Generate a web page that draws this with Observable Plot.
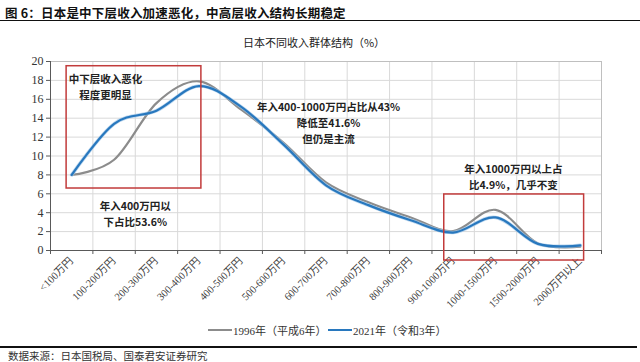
<!DOCTYPE html>
<html><head><meta charset="utf-8">
<script src="https://cdn.jsdelivr.net/npm/d3@7"></script>
<script src="https://cdn.jsdelivr.net/npm/@observablehq/plot@0.6"></script>
<style>
body{margin:0;width:640px;height:362px;position:relative;background:#fff;font-family:"Noto Sans CJK SC",sans-serif;overflow:hidden}
.abs{position:absolute;white-space:nowrap}
#title{left:5px;top:3px;font-size:12.5px;font-weight:700;color:#111;letter-spacing:0.2px}
#rule1{left:0;top:20px;width:640px;height:0;border-top:1.5px solid #111}
#sub{left:0;width:628px;top:34px;text-align:center;font-size:11px;color:#222}
#chart{left:0;top:50px}
.leg{top:322px;font-family:"Liberation Serif","Noto Sans CJK SC",serif;font-size:11px;color:#333;display:flex;align-items:center}
.sw{display:inline-block;width:24px;margin-right:1px}
#rule2{left:0;top:346px;width:637px;border-top:2px solid #111}
#src{left:8px;top:350px;font-size:10.5px;line-height:12px;color:#333}
</style></head>
<body>
<div id="title" class="abs">图 6：日本是中下层收入加速恶化，中高层收入结构长期稳定</div>
<div id="rule1" class="abs"></div>
<div id="sub" class="abs">日本不同收入群体结构（%）</div>
<div id="chart" class="abs"></div>
<div class="abs leg" id="leg1" style="left:208px"><span class="sw" style="border-top:2px solid #8c8c8c"></span>1996年（平成6年）</div>
<div class="abs leg" id="leg2" style="left:328px"><span class="sw" style="border-top:2.5px solid #2878be"></span>2021年（令和3年）</div>
<div id="rule2" class="abs"></div>
<div id="src" class="abs">数据来源：日本国税局、国泰君安证券研究</div>
<script>
const categories = ["<100万円","100-200万円","200-300万円","300-400万円","400-500万円","500-600万円","600-700万円","700-800万円","800-900万円","900-1000万円","1000-1500万円","1500-2000万円","2000万円以上"];
const series1996 = [8.0, 9.6, 15.6, 17.9, 14.9, 11.4, 7.2, 5.1, 3.5, 2.05, 4.3, 0.75, 0.4];
const series2021 = [8.0, 13.4, 14.8, 17.4, 15.2, 11.2, 6.9, 4.8, 3.2, 1.9, 3.5, 0.7, 0.55];
const yTicks = [0,2,4,6,8,10,12,14,16,18,20];

const noteText = ["中下层收入恶化\n程度更明显", "年入400万円以\n下占比53.6%", "年入400-1000万円占比从43%\n降低至41.6%\n但仍是主流", "年入1000万円以上占\n比4.9%，几乎不变"];
const noteX = [0.8, 1.5, 6.06, 10.42];
const noteY = [17.4, 3.96, 13.6, 7.87];
const boxX1 = [-0.12, 8.79];
const boxX2 = [3.06, 12.09];
const boxY1 = [6.56, -1.06];
const boxY2 = [19.5, 5.93];

const idx = categories.map((_, i) => i);
const bounds = d3.range(-0.5, categories.length, 1);
const rows = [];
idx.forEach(i => rows.push({s: "1996", i, v: series1996[i]}));
idx.forEach(i => rows.push({s: "2021", i, v: series2021[i]}));
const notes = noteText.map((t, k) => ({t, x: noteX[k], y: noteY[k]}));
const boxes = boxX1.map((_, k) => ({x1: boxX1[k], x2: boxX2[k], y1: boxY1[k], y2: boxY2[k]}));

const chart = Plot.plot({
  width: 640, height: 270,
  marginLeft: 50, marginRight: 39, marginTop: 11, marginBottom: 70,
  style: {fontFamily: '"Liberation Serif","Noto Sans CJK SC",serif', fontSize: "12px", color: "#333", background: "transparent"},
  x: {domain: [-0.5, categories.length - 0.5], axis: null},
  y: {domain: [0, 20], axis: null},
  marks: [
    Plot.gridY(yTicks, {stroke: "#d9d9d9", strokeOpacity: 1}),
    Plot.gridX(bounds, {stroke: "#d9d9d9", strokeOpacity: 1}),
    Plot.frame({stroke: "#bfbfbf"}),
    Plot.axisY({ticks: yTicks, tickSize: 4, tickPadding: 3, fontSize: 12, stroke: "#595959", tickFormat: d => d}),
    Plot.axisX({ticks: bounds, tickSize: 4, tickFormat: () => "", stroke: "#595959"}),
    Plot.ruleX([-0.5], {stroke: "#595959"}),
    Plot.ruleY([0], {stroke: "#595959"}),
    Plot.text(idx, {x: d => d, frameAnchor: "bottom", text: d => categories[d], rotate: -45, textAnchor: "end", dy: 11, dx: 2, fontSize: 10.5, fill: "#404040"}),
    Plot.line(rows.filter(d => d.s === "1996"), {x: "i", y: "v", stroke: "#8c8c8c", strokeWidth: 2.2, curve: "cardinal", tension: 0}),
    Plot.line(rows.filter(d => d.s === "2021"), {x: "i", y: "v", stroke: "#9fc6e8", strokeWidth: 3.6, curve: "cardinal", tension: 0, strokeOpacity: 0.7}),
    Plot.line(rows.filter(d => d.s === "2021"), {x: "i", y: "v", stroke: "#2878be", strokeWidth: 2.2, curve: "cardinal", tension: 0}),
    Plot.rect(boxes, {x1: "x1", x2: "x2", y1: "y1", y2: "y2", fill: "none", stroke: "#c23b3b", strokeWidth: 1.5}),
    Plot.text(notes, {x: "x", y: "y", text: "t", fontFamily: '"Noto Sans CJK SC",sans-serif', fontWeight: 700, fontSize: 10.5, lineHeight: 1.5, fill: "#222"})
  ]
});
document.getElementById("chart").appendChild(chart);
</script>
</body></html>
